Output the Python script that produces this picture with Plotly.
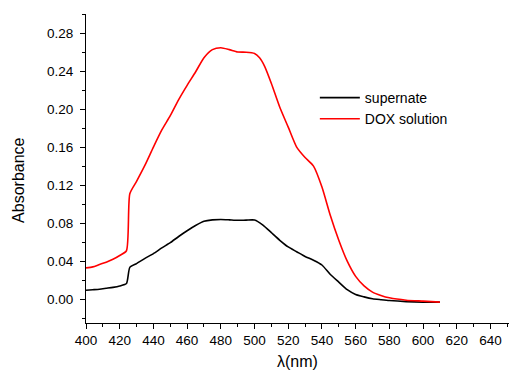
import plotly.graph_objects as go

# Wavelengths (nm) and absorbance values
wl_dox = [400, 404, 408, 412, 416, 420, 424, 426, 430, 435, 440, 445, 450, 455, 460,
          465, 470, 475, 480, 485, 490, 495, 500, 503, 506, 510, 515, 520, 525, 530,
          535, 540, 545, 550, 555, 560, 565, 570, 575, 580, 590, 600, 610]
abs_dox = [0.033, 0.034, 0.0365, 0.039, 0.042, 0.046, 0.051, 0.111, 0.124, 0.141, 0.160,
           0.178, 0.193, 0.210, 0.225, 0.239, 0.254, 0.2625, 0.2645, 0.2625, 0.260, 0.2598,
           0.2585, 0.254, 0.245, 0.227, 0.202, 0.181, 0.160, 0.149, 0.140, 0.118, 0.088,
           0.062, 0.040, 0.024, 0.014, 0.0075, 0.004, 0.0015, -0.001, -0.002, -0.003]

wl_sup = [400, 404, 408, 412, 416, 420, 424, 426, 430, 435, 440, 445, 450, 455, 460,
          465, 470, 475, 480, 485, 490, 495, 500, 505, 510, 515, 520, 525, 530, 535,
          540, 545, 550, 555, 560, 565, 570, 575, 580, 590, 600, 610]
abs_sup = [0.0095, 0.010, 0.0105, 0.0115, 0.0125, 0.014, 0.0165, 0.0335, 0.0375, 0.043,
           0.048, 0.054, 0.0595, 0.066, 0.072, 0.0775, 0.082, 0.0835, 0.0839, 0.0835,
           0.083, 0.0832, 0.0833, 0.078, 0.070, 0.062, 0.055, 0.050, 0.045, 0.041,
           0.036, 0.026, 0.018, 0.010, 0.005, 0.0025, 0.0005, -0.0005, -0.0014,
           -0.0025, -0.003, -0.003]

series_names = ["supernate", "DOX solution"]

FONT = "Liberation Sans, Arial, sans-serif"

fig = go.Figure()
fig.add_trace(go.Scatter(x=wl_sup, y=abs_sup, mode="lines", name=series_names[0],
                         line=dict(color="#000000", width=1.6, shape="spline", smoothing=0.6)))
fig.add_trace(go.Scatter(x=wl_dox, y=abs_dox, mode="lines", name=series_names[1],
                         line=dict(color="#ff0000", width=1.6, shape="spline", smoothing=0.6)))

fig.update_layout(
    width=509, height=377,
    margin=dict(l=86, r=0, t=14, b=54, autoexpand=False),
    paper_bgcolor="white", plot_bgcolor="white",
    font=dict(family=FONT, size=13.5, color="black"),
    showlegend=True,
    legend=dict(x=0.541, y=0.78, xanchor="left", yanchor="top",
                bgcolor="rgba(0,0,0,0)", font=dict(family=FONT, size=14),
                itemwidth=40, tracegroupgap=0),
)

fig.update_xaxes(
    range=[400, 651], tick0=400, dtick=20, showgrid=False, zeroline=False,
    automargin=False,
    showline=True, linecolor="black", linewidth=1.2,
    ticks="outside", ticklen=5, tickwidth=1.2, tickcolor="black",
    minor=dict(dtick=10, ticks="outside", ticklen=3, tickwidth=1.2, tickcolor="black"),
    tickfont=dict(family=FONT, size=13.5),
)
fig.update_yaxes(
    range=[-0.025, 0.30], tick0=0, dtick=0.04, tickformat=".2f", showgrid=False,
    zeroline=False, showline=True, linecolor="black", linewidth=1.2, automargin=False,
    ticks="outside", ticklen=5, tickwidth=1.2, tickcolor="black", ticklabelstandoff=4,
    minor=dict(dtick=0.02, ticks="outside", ticklen=3, tickwidth=1.2, tickcolor="black"),
    tickfont=dict(family=FONT, size=13.5),
)

fig.add_annotation(text="Absorbance", xref="paper", yref="paper",
                   x=-0.161, y=(323 - 180) / 309, xanchor="center", yanchor="middle",
                   textangle=-90, showarrow=False,
                   font=dict(family=FONT, size=16, color="black"))
fig.add_annotation(text="λ(nm)", xref="paper", yref="paper",
                   x=0.5, y=(323 - 361) / 309, xanchor="center", yanchor="middle",
                   showarrow=False,
                   font=dict(family=FONT, size=16, color="black"))

fig.write_html("out.html",
               config={"displayModeBar": False},
               post_script="document.body.style.margin='0';document.body.style.padding='0';")
